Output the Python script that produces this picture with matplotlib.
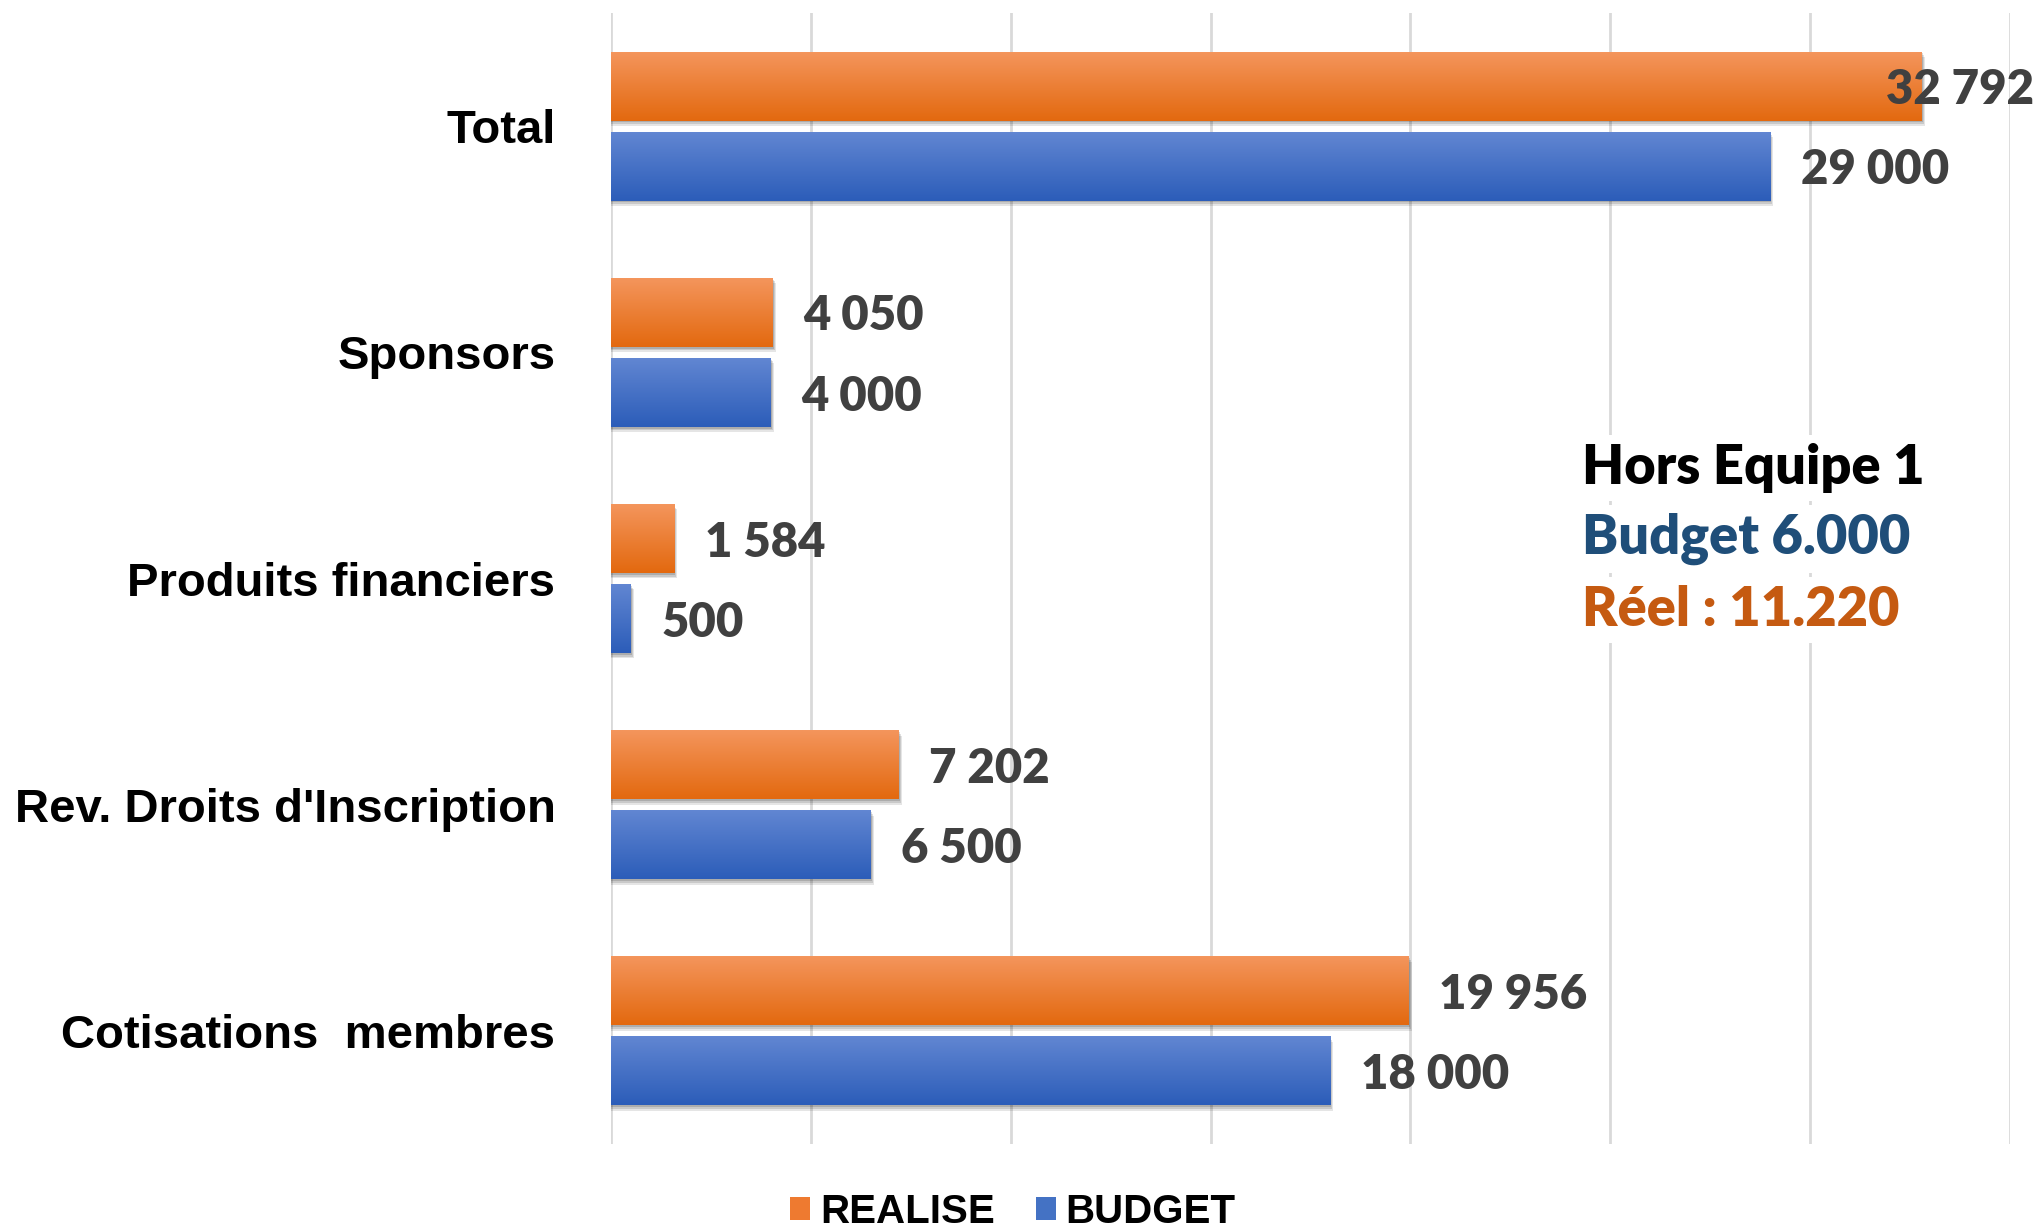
import numpy as np
import matplotlib
matplotlib.use("Agg")
import matplotlib.pyplot as plt
from matplotlib.patches import Patch, Rectangle
from matplotlib.colors import to_rgb

categories = ["Total", "Sponsors", "Produits financiers",
              "Rev. Droits d'Inscription", "Cotisations  membres"]
realise = [32792, 4050, 1584, 7202, 19956]
budget = [29000, 4000, 500, 6500, 18000]
realise_labels = ["32 792", "4 050", "1 584", "7 202", "19 956"]
budget_labels = ["29 000", "4 000", "500", "6 500", "18 000"]
series_names = ["REALISE", "BUDGET"]
note_lines = ["Hors Equipe 1", "Budget 6.000", "Réel : 11.220"]

W, H = 2040, 1230
fig = plt.figure(figsize=(W / 100, H / 100), dpi=100)
ax = fig.add_axes([611 / W, 1 - 1144 / H, (2010 - 611) / W, (1144 - 13) / H])

xmax = 35000
ax.set_xlim(0, xmax)
ax.set_ylim(len(categories) - 0.5, -0.5)

orange_top, orange_bot = "#F4955C", "#E3690F"
blue_top, blue_bot = "#6186D2", "#2C5DB9"

bh = 0.305
off = 0.177
y = np.arange(len(categories))


def grad_img(c1, c2, n=64):
    a = np.array(to_rgb(c1))
    b = np.array(to_rgb(c2))
    t = np.linspace(0, 1, n)[:, None]
    return (a * (1 - t) + b * t)[:, None, :]


def draw_bars(vals, ypos, ctop, cbot):
    for v, yc in zip(vals, ypos):
        # soft shadow
        for k, al in [(3, 0.10), (2, 0.12), (1, 0.14)]:
            ax.add_patch(Rectangle((0, yc - bh / 2 + 0.008 * k), v + xmax * 0.0007 * k, bh,
                                   facecolor="#000000", alpha=al, edgecolor="none", zorder=2))
        ax.imshow(grad_img(ctop, cbot), extent=(0, v, yc + bh / 2, yc - bh / 2),
                  aspect="auto", origin="upper", zorder=3, interpolation="bilinear")


draw_bars(realise, y - off, orange_top, orange_bot)
draw_bars(budget, y + off, blue_top, blue_bot)
ax.set_xlim(0, xmax)
ax.set_ylim(len(categories) - 0.5, -0.5)

ax.set_xticks(np.arange(0, xmax + 1, 5000))
ax.grid(axis="x", color="#D9D9D9", linewidth=2, zorder=0)
ax.set_axisbelow(True)
ax.tick_params(axis="x", length=0, labelbottom=False)
ax.tick_params(axis="y", length=0, pad=40)
for s in ax.spines.values():
    s.set_visible(False)

ax.set_yticks(y)
ax.set_yticklabels(categories, fontsize=34, fontweight="bold",
                   family=["Liberation Sans", "DejaVu Sans"], color="#000000")

lab_kw = dict(fontsize=34, fontweight="heavy", family=["Lato", "DejaVu Sans"],
              color="#404040", va="center", zorder=5)
for v, yc, t in zip(realise, y - off, realise_labels):
    if v > 0.9 * xmax:
        ax.annotate(t, xy=(1.0, yc), xycoords=("axes fraction", "data"),
                    xytext=(17, -3), textcoords="offset points", ha="right", **lab_kw)
    else:
        ax.annotate(t, xy=(v, yc), xytext=(22, -3), textcoords="offset points",
                    ha="left", **lab_kw)
for v, yc, t in zip(budget, y + off, budget_labels):
    ax.annotate(t, xy=(v, yc), xytext=(22, -3), textcoords="offset points",
                ha="left", **lab_kw)

note_colors = ["#000000", "#1F4E79", "#C55A11"]
note_y = [468, 539, 610]
for t, c, yy in zip(note_lines, note_colors, note_y):
    fig.text(1582 / W, 1 - yy / H, t, fontsize=39, fontweight="heavy",
             family=["Lato", "DejaVu Sans"], color=c, va="center", ha="left",
             zorder=10,
             bbox=dict(facecolor="white", edgecolor="none", pad=6))

handles = [Patch(facecolor="#EE7A30", edgecolor="none"),
           Patch(facecolor="#4472C4", edgecolor="none")]
leg = fig.legend(handles, series_names, loc="center", bbox_to_anchor=(1013 / W, 1 - 1212 / H),
                 ncol=2, frameon=False, handlelength=0.5, handleheight=0.5,
                 handletextpad=0.25, columnspacing=1.0,
                 prop=dict(family=["Liberation Sans", "DejaVu Sans"], weight="bold", size=29))

fig.savefig("out.png", dpi=100, facecolor="white")
